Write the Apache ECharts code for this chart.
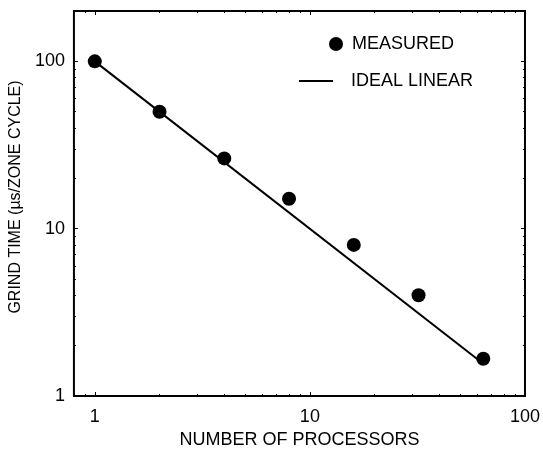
<!DOCTYPE html>
<html>
<head>
<meta charset="utf-8">
<script src="https://cdn.jsdelivr.net/npm/echarts@6/dist/echarts.min.js"></script>
<style>
html,body{margin:0;padding:0;background:#fff;}
#chart{width:543px;height:455px;}
</style>
</head>
<body>
<div id="chart"></div>
<script>
const processors = [1, 2, 4, 8, 16, 32, 64];
const measured = [100, 50, 26.3, 15.1, 8.0, 4.0, 1.67];
const idealX = [1, 64];
const idealY = [100, 1.56];
const xMajorTicks = [1, 10, 100];
const yMajorTicks = [1, 10, 100];
const xMinorTicks = [0.9, 2, 3, 4, 5, 6, 7, 8, 9, 20, 30, 40, 50, 60, 70, 80, 90];
const yMinorTicks = [2, 3, 4, 5, 6, 7, 8, 9, 20, 30, 40, 50, 60, 70, 80, 90];
const xName = 'NUMBER OF PROCESSORS';
const yName = 'GRIND TIME (µs/ZONE CYCLE)';
const seriesNames = ['MEASURED', 'IDEAL LINEAR'];

const FONT = '"Liberation Sans", Arial, Helvetica, sans-serif';
const FS = 18;
const chart = echarts.init(document.getElementById('chart'), null, {renderer: 'canvas'});

function xAxisDef(pos, opts) {
  return Object.assign({
    type: 'log', logBase: 10, min: 0.8, max: 100, position: pos,
    axisLine: {show: false},
    splitLine: {show: false},
    axisTick: {show: true, inside: true, length: 4, customValues: xMajorTicks, lineStyle: {color: '#000', width: 1}},
    axisLabel: {show: false}
  }, opts || {});
}
function yAxisDef(pos, opts) {
  return Object.assign({
    type: 'log', logBase: 10, min: 1, max: 200, position: pos,
    axisLine: {show: false},
    splitLine: {show: false},
    axisTick: {show: true, inside: true, length: 4, customValues: yMajorTicks, lineStyle: {color: '#000', width: 1}},
    axisLabel: {show: false}
  }, opts || {});
}

const option = {
  animation: false,
  backgroundColor: '#fff',
  textStyle: {fontFamily: FONT},
  grid: {left: 73, right: 16, top: 11, bottom: 59, show: true, borderColor: '#000', borderWidth: 2, backgroundColor: 'transparent'},
  legend: [
    {
      data: [{name: seriesNames[0], icon: 'circle'}], left: 324, top: 30, itemWidth: 14, itemHeight: 14,
      textStyle: {fontFamily: FONT, fontSize: FS, color: '#000', padding: [0, 0, 0, 4]}
    },
    {
      data: [{name: seriesNames[1], icon: 'rect'}], left: 294, top: 67, itemWidth: 34, itemHeight: 2,
      itemStyle: {color: '#000'},
      textStyle: {fontFamily: FONT, fontSize: FS, color: '#000', padding: [0, 0, 0, 13]}
    }
  ],
  xAxis: [
    xAxisDef('bottom', {
      name: xName, nameLocation: 'middle', nameGap: 31,
      nameTextStyle: {fontFamily: FONT, fontSize: FS, color: '#000'},
      axisLabel: {show: true, customValues: xMajorTicks, margin: 12, fontFamily: FONT, fontSize: FS, color: '#000',
        formatter: function (v) { return String(v); }}
    }),
    xAxisDef('top'),
    xAxisDef('bottom', {axisTick: {show: true, inside: true, length: 2, customValues: xMinorTicks, lineStyle: {color: '#000', width: 1}}}),
    xAxisDef('top', {axisTick: {show: true, inside: true, length: 2, customValues: xMinorTicks, lineStyle: {color: '#000', width: 1}}})
  ],
  yAxis: [
    yAxisDef('left', {
      name: yName, nameLocation: 'middle', nameGap: 34, nameRotate: 90,
      nameTextStyle: {fontFamily: FONT, fontSize: 16, color: '#000', padding: [0, 0, 0, 13]},
      axisLabel: {show: true, customValues: yMajorTicks, margin: 9, fontFamily: FONT, fontSize: FS, color: '#000',
        formatter: function (v) { return String(v); }}
    }),
    yAxisDef('right'),
    yAxisDef('left', {axisTick: {show: true, inside: true, length: 2, customValues: yMinorTicks, lineStyle: {color: '#000', width: 1}}}),
    yAxisDef('right', {axisTick: {show: true, inside: true, length: 2, customValues: yMinorTicks, lineStyle: {color: '#000', width: 1}}})
  ],
  series: [
    {
      name: seriesNames[0], type: 'scatter', xAxisIndex: 0, yAxisIndex: 0,
      symbol: 'circle', symbolSize: 14,
      itemStyle: {color: '#000', opacity: 1},
      data: processors.map(function (p, i) { return [p, measured[i]]; }),
      z: 3
    },
    {
      name: seriesNames[1], type: 'line', xAxisIndex: 0, yAxisIndex: 0,
      symbol: 'none', showSymbol: false,
      lineStyle: {color: '#000', width: 2},
      itemStyle: {color: '#000'},
      data: idealX.map(function (x, i) { return [x, idealY[i]]; }),
      z: 2
    }
  ]
};
chart.setOption(option);
</script>
</body>
</html>
